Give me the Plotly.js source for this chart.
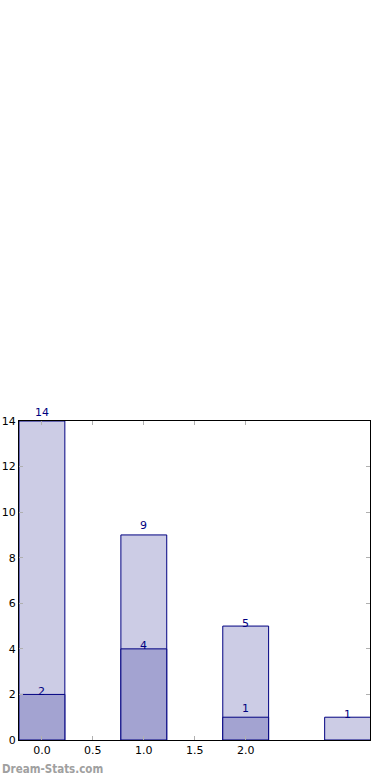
<!DOCTYPE html>
<html><head><meta charset="utf-8">
<script src="https://cdn.plot.ly/plotly-3.0.1.min.js"></script>
<style>html,body{margin:0;padding:0;background:#fff}#c{width:390px;height:780px}</style>
</head><body><div id="c"></div>
<script>
const categories = [0, 1, 2, 3];
const totalValues = [14, 9, 5, 1];
const subsetValues = [2, 4, 1, 0];
const xTickVals = [0, 0.5, 1, 1.5, 2];
const xTickText = ['0.0', '0.5', '1.0', '1.5', '2.0'];
const yTickVals = [0, 2, 4, 6, 8, 10, 12, 14];
const labelShiftTotal = [9, 9, 3, 3];
const labelShiftSubset = [3, 3, 9, 0];

const navy = '#000080';
const traces = [
  {type:'bar', x:categories, y:totalValues, width:0.45,
   marker:{color:'#ccccE5', line:{color:navy, width:1}}, hoverinfo:'none'},
  {type:'bar', x:categories, y:subsetValues.map(v => v > 0 ? v : null), width:0.45,
   marker:{color:'#a3a3d1', line:{color:navy, width:1}}, hoverinfo:'none'}
];
const ann = [];
categories.forEach((c,i)=>{
  ann.push({x:c, y:totalValues[i], xref:'x', yref:'y', text:String(totalValues[i]), showarrow:false,
    yanchor:'middle', yshift:labelShiftTotal[i], font:{family:'DejaVu Sans', size:11, color:navy}});
  if (subsetValues[i] > 0) ann.push({x:c, y:subsetValues[i], xref:'x', yref:'y', text:String(subsetValues[i]), showarrow:false,
    yanchor:'middle', yshift:labelShiftSubset[i], font:{family:'DejaVu Sans', size:11, color:navy}});
});
ann.push({xref:'paper', yref:'paper', x:-19/351, y:-29/319, xanchor:'left', yanchor:'middle',
  text:'<b>Dream-Stats.com</b>', showarrow:false, font:{family:'DejaVu Sans Condensed, DejaVu Sans', size:11.5, color:'#a0a0a0'}});

const layout = {
  width:390, height:780, barmode:'overlay', showlegend:false,
  margin:{l:19, r:20, t:421, b:40, pad:0},
  paper_bgcolor:'#fff', plot_bgcolor:'#fff',
  font:{family:'DejaVu Sans', size:11, color:'#000'},
  xaxis:{range:[-0.225, 3.22], tickmode:'array', tickvals:xTickVals, ticktext:xTickText,
    ticks:'inside', ticklen:4, tickwidth:1, tickcolor:'#b0b0b0', showgrid:false, zeroline:false,
    showline:true, linecolor:'#000', linewidth:1, mirror:'allticks', tickfont:{size:11}},
  yaxis:{range:[0,14], tickmode:'array', tickvals:yTickVals,
    ticks:'inside', ticklen:4, tickwidth:1, tickcolor:'#b0b0b0', showgrid:false, zeroline:false,
    showline:true, linecolor:'#000', linewidth:1, mirror:'allticks', tickfont:{size:11}},
  annotations:ann
};
Plotly.newPlot('c', traces, layout, {staticPlot:true, displayModeBar:false});
</script></body></html>
